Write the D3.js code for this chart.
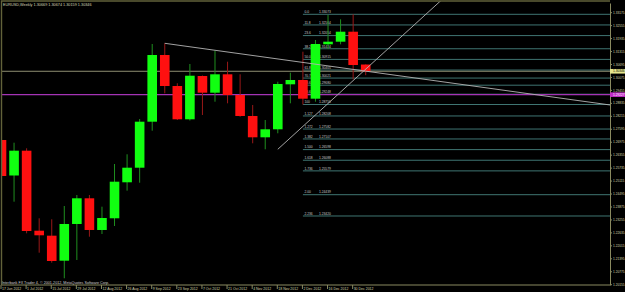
<!DOCTYPE html>
<html lang="en">
<head>
<meta charset="utf-8">
<script src="https://d3js.org/d3.v7.min.js"></script>
<style>
  html, body { margin: 0; padding: 0; background: #000; }
  svg { display: block; }
  text { font-family: "Liberation Sans", Arial, sans-serif; }
</style>
</head>
<body>
<div id="plot"></div>
<script>
// EURUSD weekly bars (week start dates)
const weeks = ["2012-06-17","2012-06-24","2012-07-01","2012-07-08","2012-07-15","2012-07-22",
  "2012-07-29","2012-08-05","2012-08-12","2012-08-19","2012-08-26","2012-09-02","2012-09-09",
  "2012-09-16","2012-09-23","2012-09-30","2012-10-07","2012-10-14","2012-10-21","2012-10-28",
  "2012-11-04","2012-11-11","2012-11-18","2012-11-25","2012-12-02","2012-12-09","2012-12-16",
  "2012-12-23","2012-12-30","2013-01-06"];
const opens  = [1.27057,1.25358,1.26545,1.22716,1.22477,1.21280,1.23037,1.24267,1.22750,1.23310,
  1.25033,1.25731,1.27933,1.31125,1.29641,1.28048,1.30120,1.29321,1.30201,1.29211,
  1.28206,1.27186,1.27569,1.29723,1.29929,1.29034,1.31637,1.31762,1.32240,1.30669];
const highs  = [1.27392,1.26928,1.26660,1.23310,1.23262,1.23898,1.24425,1.24425,1.23865,1.25908,
  1.26373,1.28062,1.31652,1.31685,1.29771,1.30694,1.30144,1.31331,1.30804,1.30201,
  1.28732,1.28014,1.29847,1.30278,1.31283,1.31843,1.33039,1.32834,1.33073,1.30674];
const lows   = [1.25238,1.24104,1.22592,1.21663,1.21185,1.20438,1.21314,1.22429,1.22558,1.22941,
  1.24631,1.25013,1.27502,1.29292,1.28014,1.27990,1.28254,1.28890,1.28813,1.28172,
  1.26899,1.26612,1.27378,1.28813,1.28756,1.28890,1.31412,1.31637,1.29962,1.30159];
const closes = [1.25334,1.26545,1.22702,1.22496,1.21266,1.23037,1.24267,1.22750,1.23324,1.25061,
  1.25731,1.27933,1.31125,1.29641,1.28048,1.30134,1.29321,1.30201,1.29211,1.28206,
  1.27186,1.27569,1.29737,1.29929,1.29034,1.31652,1.31762,1.32240,1.30646,1.30346];

// axis ticks
const dateTicks = ["2012-06-17","2012-07-01","2012-07-15","2012-07-29","2012-08-12","2012-08-26",
  "2012-09-09","2012-09-23","2012-10-07","2012-10-21","2012-11-04","2012-11-18","2012-12-02",
  "2012-12-16","2012-12-30"];
const priceTicks = [1.33175,1.32555,1.31935,1.31315,1.30695,1.30075,1.29455,1.28835,1.28215,
  1.27595,1.26975,1.26355,1.25735,1.25115,1.24495,1.23875,1.23255,1.22635,1.22015,1.21395,
  1.20775,1.20155];

// fibonacci retracement (low of 2 Dec bar -> high of 30 Dec bar)
const fibLevels = [0,11.8,23.6,38.2,50,61.8,70.7,78.6,88.6,100,112.7,127.2,138.2,150,161.8,173.6,200,223.6];
const fibNames  = ["0.0","11.8","23.6","38.2","50.0","61.8","70.7","78.6","88.6","100",
  "1.127","1.272","1.382","1.500","1.618","1.736","2.00","2.236"];
const fibHigh = 1.33073, fibLow = 1.28756, fibStart = "2012-12-02";

// trend lines and horizontal line
const trendDown = [["2012-09-16", 1.31685], ["2012-10-14", 1.31352]];
const trendUp   = [["2012-11-18", 1.26612], ["2012-12-16", 1.28804]];
const hLine = 1.29227;

const W = 625, H = 292;
const pLeft = 1.5, pRight = 610, pTop = 1, pBottom = 285;
const parse = d3.utcParse("%Y-%m-%d");

const bars = weeks.map((w, i) => ({date: parse(w), o: opens[i], h: highs[i], l: lows[i], c: closes[i]}));

const x = d3.scaleUtc()
    .domain([bars[0].date, bars[bars.length - 1].date])
    .range([1.5, 365.7]);
const y = d3.scaleLinear()
    .domain([1.20117, 1.33614])
    .range([285, 3]);

const svg = d3.select("#plot").append("svg")
    .attr("width", W).attr("height", H);
svg.append("rect").attr("width", W).attr("height", H).attr("fill", "#000");

svg.append("clipPath").attr("id", "clip")
  .append("rect").attr("x", pLeft).attr("y", pTop)
    .attr("width", pRight - pLeft).attr("height", pBottom - pTop);

const plot = svg.append("g").attr("clip-path", "url(#clip)");

// fib lines
const fx0 = x(parse(fibStart));
const fib = fibLevels.map((lv, i) => ({name: fibNames[i], price: fibHigh - lv / 100 * (fibHigh - fibLow)}));
plot.append("g").selectAll("line").data(fib).join("line")
    .attr("x1", fx0).attr("x2", pRight)
    .attr("y1", d => y(d.price)).attr("y2", d => y(d.price))
    .attr("stroke", "#3f7572").attr("stroke-width", 1);
const fibText = plot.append("g").attr("fill", "#c8c8c8").style("font-size", "3.3px");
fibText.selectAll(".fn").data(fib).join("text").attr("class", "fn")
    .attr("x", fx0 + 1.5).attr("y", d => y(d.price) - 1.2)
    .text(d => d.name);
fibText.selectAll(".fp").data(fib).join("text").attr("class", "fp")
    .attr("x", fx0 + 16).attr("y", d => y(d.price) - 1.2)
    .text(d => d.price.toFixed(5));

// bid line and horizontal line
const bid = closes[closes.length - 1];
plot.append("line").attr("x1", pLeft).attr("x2", pRight)
    .attr("y1", y(bid)).attr("y2", y(bid))
    .attr("stroke", "#8e8e72").attr("stroke-width", 1);
plot.append("line").attr("x1", pLeft).attr("x2", pRight)
    .attr("y1", y(hLine)).attr("y2", y(hLine))
    .attr("stroke", "#a433b4").attr("stroke-width", 1.3);

// candles
const bw = 9.6;
const cg = plot.append("g");
cg.selectAll("line").data(bars).join("line")
    .attr("x1", d => x(d.date)).attr("x2", d => x(d.date))
    .attr("y1", d => y(d.h)).attr("y2", d => y(d.l))
    .attr("stroke", d => d.c >= d.o ? "#1f8f1f" : "#9a1818")
    .attr("stroke-width", 1);
cg.selectAll("rect").data(bars).join("rect")
    .attr("x", d => x(d.date) - bw / 2)
    .attr("width", bw)
    .attr("y", d => y(Math.max(d.o, d.c)))
    .attr("height", d => Math.max(1.5, Math.abs(y(d.o) - y(d.c))))
    .attr("fill", d => d.c >= d.o ? "#11ff11" : "#ff1010");

// trend lines, extended as rays to the right
function ray(pts, xEnd) {
  const x1 = x(parse(pts[0][0])), y1 = y(pts[0][1]);
  const x2 = x(parse(pts[1][0])), y2 = y(pts[1][1]);
  const k = (y2 - y1) / (x2 - x1);
  return [x1, y1, xEnd, y1 + k * (xEnd - x1)];
}
[trendDown, trendUp].forEach(pts => {
  const r = ray(pts, pRight);
  plot.append("line")
      .attr("x1", r[0]).attr("y1", r[1]).attr("x2", r[2]).attr("y2", r[3])
      .attr("stroke", "#b4b4b4").attr("stroke-width", 0.9);
});

// frame
svg.append("path")
    .attr("d", `M${pLeft},${pBottom}V${pTop}H${pRight}`)
    .attr("fill", "none").attr("stroke", "#62623a").attr("stroke-width", 1.4);
svg.append("line").attr("x1", pLeft).attr("x2", pRight).attr("y1", pBottom).attr("y2", pBottom)
    .attr("stroke", "#8a8a60").attr("stroke-width", 1);

// price axis
const yAxis = d3.axisRight(y).tickValues(priceTicks).tickSize(2).tickSizeOuter(0)
    .tickFormat(d => d.toFixed(5));
const yg = svg.append("g").attr("transform", `translate(${pRight},0)`).call(yAxis);
yg.select(".domain").attr("stroke", "#8a8a60");
yg.selectAll(".tick line").attr("stroke", "#8a8a60");
yg.selectAll(".tick text").attr("x", 3).attr("dy", "0.35em")
    .attr("fill", "#d4d4a8").style("font-size", "3.2px").attr("font-family", null);

// highlighted price labels
[[bid, "#e6e68c", "#000"], [hLine, "#c22cc8", "#fff"]].forEach(([p, bg, fg]) => {
  svg.append("rect").attr("x", pRight).attr("y", y(p) - 2.3).attr("width", W - pRight).attr("height", 4.6)
      .attr("fill", bg);
  svg.append("text").attr("x", pRight + 3).attr("y", y(p)).attr("dy", "0.35em")
      .attr("fill", fg).style("font-size", "3.2px").text(p.toFixed(5));
});

// date axis
const xAxis = d3.axisBottom(x).tickValues(dateTicks.map(parse)).tickSize(4).tickSizeOuter(0)
    .tickFormat(d3.utcFormat("%-d %b %Y"));
const xg = svg.append("g").attr("transform", `translate(0,${pBottom})`).call(xAxis);
xg.select(".domain").remove();
xg.selectAll(".tick line").attr("stroke", "#8a8a60").attr("transform", "translate(-1,0)");
xg.selectAll(".tick text").attr("text-anchor", "start").attr("x", 0).attr("y", 5.4)
    .attr("dy", 0).attr("fill", "#d4d4a8").style("font-size", "3.5px").attr("font-family", null);

// header and footer text
svg.append("text").attr("x", 3).attr("y", 6.3)
    .attr("fill", "#d8d8b8").style("font-size", "3.8px")
    .text(`EURUSD,Weekly  ${opens[29].toFixed(5)} ${highs[29].toFixed(5)} ${lows[29].toFixed(5)} ${closes[29].toFixed(5)}`);
svg.append("text").attr("x", 2).attr("y", 283.5)
    .attr("fill", "#d0d0d0").style("font-size", "3.7px")
    .text("Interbank FX Trader 4, \u00a9 2001-2012, MetaQuotes Software Corp.");
</script>
</body>
</html>
